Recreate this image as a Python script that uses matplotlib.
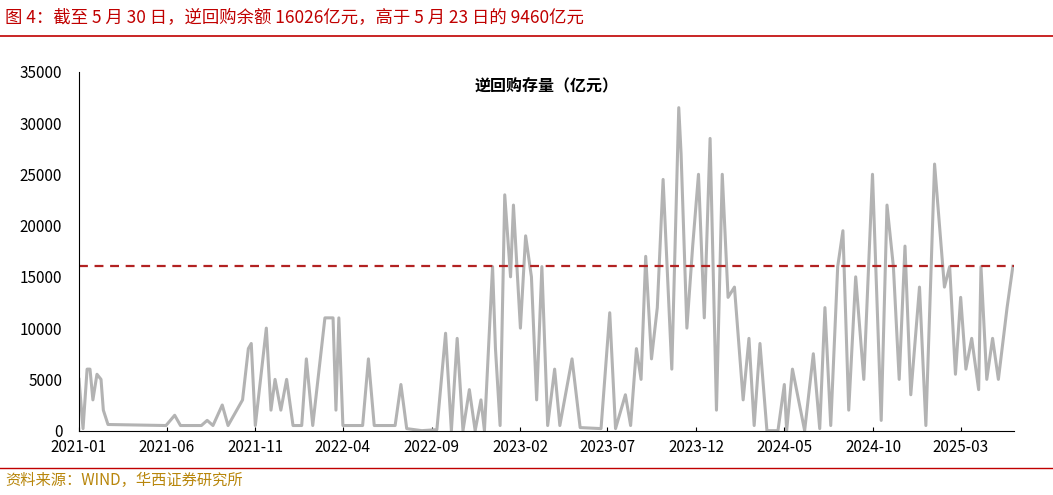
import matplotlib
matplotlib.use("Agg")
import matplotlib.pyplot as plt
import pandas as pd

plt.rcParams['font.family'] = ['Noto Sans CJK SC', 'DejaVu Sans']

dates = ["2021-01-01","2021-01-08","2021-01-15","2021-01-20","2021-01-25","2021-02-01","2021-02-08","2021-02-12","2021-02-20",
"2021-05-31","2021-06-15","2021-06-25","2021-07-31","2021-08-10","2021-08-20","2021-09-05","2021-09-15","2021-10-10","2021-10-20",
"2021-10-25","2021-11-01","2021-11-20","2021-11-28","2021-12-05","2021-12-15","2021-12-25","2022-01-05","2022-01-20","2022-01-28",
"2022-02-08","2022-03-01","2022-03-15","2022-03-20","2022-03-25","2022-04-01","2022-05-05","2022-05-15","2022-05-25","2022-06-30",
"2022-07-10","2022-07-20","2022-08-15","2022-09-10","2022-09-25","2022-10-05","2022-10-15","2022-10-25","2022-11-05","2022-11-15",
"2022-11-25","2022-12-01","2022-12-15","2022-12-20","2022-12-28","2023-01-05","2023-01-15","2023-01-20","2023-02-01","2023-02-10",
"2023-02-20","2023-03-01","2023-03-10","2023-03-20","2023-04-01","2023-04-10","2023-05-01","2023-05-15","2023-06-20","2023-07-05",
"2023-07-15","2023-08-01","2023-08-10","2023-08-20","2023-08-28","2023-09-05","2023-09-15","2023-09-25","2023-10-05","2023-10-20",
"2023-11-01","2023-11-05","2023-11-15","2023-11-25","2023-12-05","2023-12-15","2023-12-25","2024-01-05","2024-01-15","2024-01-25",
"2024-02-05","2024-02-20","2024-03-01","2024-03-10","2024-03-20","2024-04-01","2024-04-20","2024-05-01","2024-05-05","2024-05-15",
"2024-06-05","2024-06-20","2024-07-01","2024-07-10","2024-07-20","2024-08-01","2024-08-10","2024-08-20","2024-09-01","2024-09-15",
"2024-09-30","2024-10-15","2024-10-25","2024-11-05","2024-11-15","2024-11-25","2024-12-05","2024-12-20","2024-12-31","2025-01-15",
"2025-02-01","2025-02-10","2025-02-20","2025-03-01","2025-03-10","2025-03-20","2025-04-01","2025-04-05","2025-04-15","2025-04-25",
"2025-05-05","2025-05-20","2025-05-30"]
values = [5000,200,6000,6000,3000,5500,5000,2000,600,
500,1500,500,500,1000,500,2500,500,3000,8000,
8500,500,10000,2000,5000,2000,5000,500,500,7000,
500,11000,11000,2000,11000,500,500,7000,500,500,
4500,200,0,100,9500,0,9000,0,4000,0,
3000,0,16000,8000,500,23000,15000,22000,10000,19000,
15000,3000,16000,500,6000,500,7000,300,200,11500,
200,3500,500,8000,5000,17000,7000,12000,24500,6000,
31500,27000,10000,18000,25000,11000,28500,2000,25000,13000,
14000,3000,9000,500,8500,0,0,4500,0,6000,
0,7500,200,12000,500,16000,19500,2000,15000,5000,
25000,1000,22000,16000,5000,18000,3500,14000,500,26000,
14000,16000,5500,13000,6000,9000,4000,16000,5000,9000,
5000,12000,16026]
ref_value = 16026
yticks = [0,5000,10000,15000,20000,25000,30000,35000]
xtick_labels = ["2021-01","2021-06","2021-11","2022-04","2022-09","2023-02","2023-07","2023-12","2024-05","2024-10","2025-03"]

fig = plt.figure(figsize=(10.53,4.95), dpi=100)
ax = fig.add_axes([0.075, 0.13, 0.888, 0.725])
d = pd.to_datetime(dates)
ax.plot(d, values, color='#b3b3b3', lw=2.2)
ax.axhline(ref_value, color='#b22222', ls='--', lw=1.6, dashes=(4,3))
ax.set_ylim(0,35000)
ax.set_yticks(yticks)
ax.set_xlim(pd.Timestamp("2021-01-01"), pd.Timestamp("2025-06-01"))
ax.set_xticks(pd.to_datetime(xtick_labels))
ax.set_xticklabels(xtick_labels)
for s in ['top','right']:
    ax.spines[s].set_visible(False)
ax.tick_params(labelsize=11, direction='in', length=3)
ax.tick_params(axis='x', pad=6)
ax.tick_params(axis='y', length=0, pad=12)
ax.text(0.5, 0.985, "逆回购存量（亿元）", transform=ax.transAxes, ha='center', va='top', fontsize=11.5, fontweight='bold')

fig.text(0.005, 0.965, "图 4：截至 5 月 30 日，逆回购余额 16026亿元，高于 5 月 23 日的 9460亿元", color='#c00000', fontsize=12.5, va='center')
fig.add_artist(plt.Line2D([0,1],[0.928,0.928], color='#c00000', lw=1.2, transform=fig.transFigure))
fig.add_artist(plt.Line2D([0,1],[0.055,0.055], color='#c00000', lw=1.0, transform=fig.transFigure))
fig.text(0.005, 0.03, "资料来源：WIND，华西证券研究所", color='#b8860b', fontsize=11, va='center')
fig.savefig("out.png")
